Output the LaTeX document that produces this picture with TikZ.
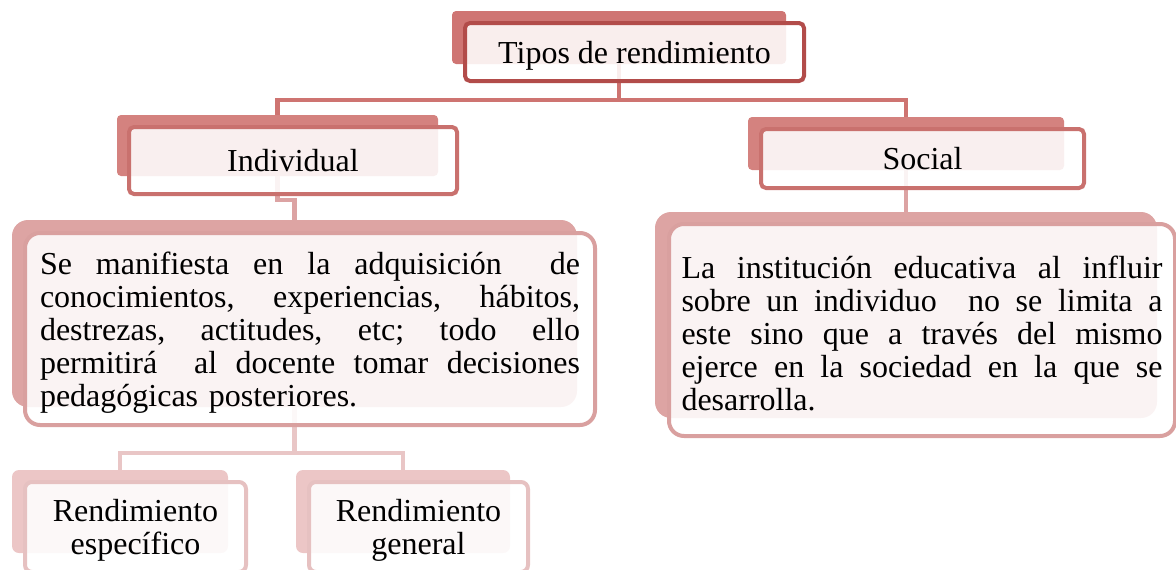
\documentclass[tikz,border=0pt]{standalone}
\usepackage{fontspec}
\setmainfont{Liberation Serif}
\usetikzlibrary{calc,backgrounds}
\definecolor{lAback}{HTML}{CF7573}
\definecolor{lAline}{HTML}{B24C4A}
\definecolor{lBback}{HTML}{D4827F}
\definecolor{lBline}{HTML}{C9716E}
\definecolor{lCback}{HTML}{DDA4A3}
\definecolor{lCline}{HTML}{D9A09F}
\definecolor{lDback}{HTML}{ECC6C6}
\definecolor{lDline}{HTML}{E6C1C1}
\definecolor{cA}{HTML}{CE7471}
\definecolor{cC}{HTML}{DCA3A3}
\definecolor{cD}{HTML}{E9C6C6}
\newcommand{\jl}[2]{\leavevmode\hbox to #1{#2}}
\newcommand{\gapw}{ \hfill }
\begin{document}
\begin{tikzpicture}[x=1pt,y=-1pt,
  font=\fontsize{32}{33}\selectfont,
  backbox/.style={rectangle, draw=none, inner sep=0pt, outer sep=0pt},
  frontbox/.style={rectangle, inner sep=0pt, outer sep=0pt, fill=white,
    fill opacity=0.88, text opacity=1, line width=4pt, align=center},
  conn/.style={line width=4.5pt}]
\useasboundingbox (0,0) rectangle (1176,570);
\clip (0,0) rectangle (1176,570);

% level 1
\node[backbox, fill=lAback, rounded corners=4pt, minimum width=334pt, minimum height=53pt] (tiposB) at (619,37.5) {};
\node[frontbox, draw=lAline, rounded corners=5pt, minimum width=339pt, minimum height=58pt, text depth=0pt] (tipos) at (634.5,52) {Tipos de rendimiento};

% level 2
\node[backbox, fill=lBback, rounded corners=4pt, minimum width=321pt, minimum height=61pt] (indB) at (277.5,145.5) {};
\node[frontbox, draw=lBline, rounded corners=5pt, minimum width=328pt, minimum height=67pt] (ind) at (293,160.5) {Individual};
\node[backbox, fill=lBback, rounded corners=4pt, minimum width=316pt, minimum height=53pt] (socB) at (906,143.5) {};
\node[frontbox, draw=lBline, rounded corners=5pt, minimum width=323pt, minimum height=59pt] (soc) at (922.5,158.5) {Social};

% level 3
\node[backbox, fill=lCback, rounded corners=16pt, minimum width=565pt, minimum height=187pt] (descIB) at (294.5,313.5) {};
\node[frontbox, draw=lCline, rounded corners=15pt, minimum width=570pt, minimum height=192pt, text width=540pt, align=left] (descI) at (310,329) {%
\jl{540pt}{\rule{0pt}{30pt}Se\gapw manifiesta\gapw en\gapw la\gapw adquisición\gapw\gapw de}\\
\jl{540pt}{conocimientos,\gapw experiencias,\gapw hábitos,}\\
\jl{540pt}{destrezas,\gapw actitudes,\gapw etc;\gapw todo\gapw ello}\\
\jl{540pt}{permitirá\gapw\gapw al\gapw docente\gapw tomar\gapw decisiones}\\
pedagógicas posteriores.};
\node[backbox, fill=lCback, rounded corners=16pt, minimum width=502pt, minimum height=206pt] (descSB) at (906,315) {};
\node[frontbox, draw=lCline, rounded corners=15pt, minimum width=506pt, minimum height=212pt, text width=481pt, align=left] (descS) at (922,330) {%
\jl{481pt}{\rule{0pt}{30pt}La\gapw institución\gapw educativa\gapw al\gapw influir}\\
\jl{481pt}{sobre\gapw un\gapw individuo\gapw\gapw no\gapw se\gapw limita\gapw a}\\
\jl{481pt}{este\gapw sino\gapw que\gapw a\gapw través\gapw del\gapw mismo}\\
\jl{481pt}{ejerce\gapw en\gapw la\gapw sociedad\gapw en\gapw la\gapw que\gapw se}\\
desarrolla.};

% level 4
\node[backbox, fill=lDback, rounded corners=7pt, minimum width=216pt, minimum height=83pt] (espB) at (120,511.5) {};
\node[frontbox, draw=lDline, rounded corners=7pt, minimum width=221pt, minimum height=90pt, text width=221pt] (esp) at (135.5,527) {\rule{0pt}{28.5pt}Rendimiento\\específico};
\node[backbox, fill=lDback, rounded corners=7pt, minimum width=214pt, minimum height=83pt] (genB) at (403,511.5) {};
\node[frontbox, draw=lDline, rounded corners=7pt, minimum width=219pt, minimum height=90pt, text width=219pt] (gen) at (418.5,527) {\rule{0pt}{28.5pt}Rendimiento\\general};

% connectors
\begin{pgfonlayer}{background}
\coordinate (hubA) at ($(tiposB.south)+(0,36)$);
\draw[conn, draw=cA] (tiposB.south) -- (hubA) -| (indB.north);
\draw[conn, draw=cA] (hubA) -| (socB.north);
\coordinate (hubI) at ($(indB.south)+(0,24)$);
\draw[conn, draw=cC] (indB.south) -- (hubI) -| (descIB.north);
\draw[conn, draw=cC] (socB.south) -- (descSB.north);
\coordinate (hubD) at ($(descIB.south)+(0,46)$);
\draw[conn, draw=cD] (descIB.south) -- (hubD) -| (espB.north);
\draw[conn, draw=cD] (hubD) -| (genB.north);
\end{pgfonlayer}
\end{tikzpicture}
\end{document}
